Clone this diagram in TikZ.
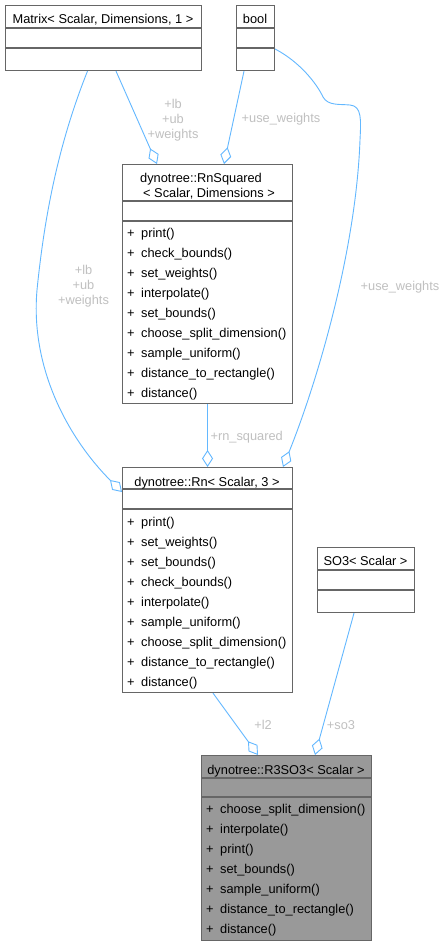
\documentclass[tikz,border=0pt]{standalone}
\usepackage{fontspec}
\setmainfont{Liberation Sans}
\usetikzlibrary{arrows.meta}
\definecolor{edgeblue}{HTML}{63B8FF}
\definecolor{boxgray}{HTML}{666666}
\definecolor{labelgray}{HTML}{C0C0C0}
\definecolor{hlfill}{HTML}{999999}
\newcommand\mrow[1]{\makebox[14pt][l]{+}#1}
\begin{document}
\begin{tikzpicture}[x=1pt,y=-1pt,
  box/.style={draw=boxgray, line width=1.1pt, inner sep=0pt, anchor=north west},
  divline/.style={draw=boxgray, line width=1.1pt},
  rows/.style={inner sep=0pt, anchor=base west, align=left, font=\fontsize{12.8}{20}\selectfont},
  ttl/.style={inner sep=0pt, anchor=base, font=\fontsize{12.8}{15}\selectfont},
  ttlw/.style={inner sep=0pt, anchor=base west, font=\fontsize{12.8}{15}\selectfont},
  lbl/.style={inner sep=0pt, anchor=base, align=center, text=labelgray, font=\fontsize{12.8}{14.8}\selectfont},
  edge/.style={draw=edgeblue, line width=0.9pt, -{Diamond[length=17pt,width=11pt,fill=white]}}
]
\useasboundingbox[fill=white] (0,0) rectangle (446,946);

% Matrix
\node[box, minimum width=196, minimum height=65] (matrix) at (5,5) {};
\draw[divline] ([yshift=-23]matrix.north west) -- ([yshift=-23]matrix.north east);
\draw[divline] ([yshift=-43]matrix.north west) -- ([yshift=-43]matrix.north east);
\node[ttl] (matrixT) at (103,23.5) {Matrix< Scalar, Dimensions, 1 >};

% bool
\node[box, minimum width=38, minimum height=65] (bool) at (236,5) {};
\draw[divline] ([yshift=-23]bool.north west) -- ([yshift=-23]bool.north east);
\draw[divline] ([yshift=-43]bool.north west) -- ([yshift=-43]bool.north east);
\node[ttl] (boolT) at (255,23.5) {bool};

% RnSquared
\node[box, minimum width=170, minimum height=239] (rnsq) at (122,164) {};
\draw[divline] ([yshift=-37]rnsq.north west) -- ([yshift=-37]rnsq.north east);
\draw[divline] ([yshift=-57]rnsq.north west) -- ([yshift=-57]rnsq.north east);
\node[ttlw] (rnsqT1) at (140,182) {dynotree::RnSquared};
\node[ttlw] (rnsqT2) at (143,197.5) {< Scalar, Dimensions >};
% anchor base = baseline of the last line
\node[rows] (rnsqR) at (127,397.5) {\mrow{print()}\\\mrow{check\_bounds()}\\\mrow{set\_weights()}\\\mrow{interpolate()}\\\mrow{set\_bounds()}\\\mrow{choose\_split\_dimension()}\\\mrow{sample\_uniform()}\\\mrow{distance\_to\_rectangle()}\\\mrow{distance()}};

% Rn
\node[box, minimum width=170, minimum height=225] (rn) at (122,467) {};
\draw[divline] ([yshift=-22]rn.north west) -- ([yshift=-22]rn.north east);
\draw[divline] ([yshift=-42]rn.north west) -- ([yshift=-42]rn.north east);
\node[ttl] (rnT) at (207,486) {dynotree::Rn< Scalar, 3 >};
\node[rows] (rnR) at (127,686) {\mrow{print()}\\\mrow{set\_weights()}\\\mrow{set\_bounds()}\\\mrow{check\_bounds()}\\\mrow{interpolate()}\\\mrow{sample\_uniform()}\\\mrow{choose\_split\_dimension()}\\\mrow{distance\_to\_rectangle()}\\\mrow{distance()}};

% SO3
\node[box, minimum width=97, minimum height=65] (so3) at (317,547) {};
\draw[divline] ([yshift=-23]so3.north west) -- ([yshift=-23]so3.north east);
\draw[divline] ([yshift=-43]so3.north west) -- ([yshift=-43]so3.north east);
\node[ttl] (so3T) at (365.5,565) {SO3< Scalar >};

% R3SO3
\node[box, fill=hlfill, minimum width=170, minimum height=185] (r3) at (201,755) {};
\draw[divline] ([yshift=-23]r3.north west) -- ([yshift=-23]r3.north east);
\draw[divline] ([yshift=-42]r3.north west) -- ([yshift=-42]r3.north east);
\node[ttl] (r3T) at (286,774) {dynotree::R3SO3< Scalar >};
\node[rows] (r3R) at (206,933.5) {\mrow{choose\_split\_dimension()}\\\mrow{interpolate()}\\\mrow{print()}\\\mrow{set\_bounds()}\\\mrow{sample\_uniform()}\\\mrow{distance\_to\_rectangle()}\\\mrow{distance()}};

% connectors
\draw[edge] ([xshift=111]matrix.south west) -- ([xshift=35]rnsq.north west);
\node[lbl] (l1) at (173,138) {+lb\\+ub\\+weights};

\draw[edge] ([xshift=8]bool.south west) -- ([xshift=102]rnsq.north west);
\node[lbl] (l2) at (281,122.5) {+use\_weights};

\draw[edge] ([yshift=-44]bool.north east) .. controls (300,62) and (317,84) .. (323,97)
  .. controls (328,106) and (340,104) .. (350,105)
  .. controls (362,106) and (361,120) .. (360,140)
  .. controls (356,250) and (318,380) .. ([xshift=161]rn.north west);
\node[lbl] (l3) at (400,290) {+use\_weights};

\draw[edge] ([xshift=82.5]matrix.south west) .. controls (60,140) and (45,210) .. (37,290)
  .. controls (30,370) and (70,440) .. ([yshift=-25]rn.north west);
\node[lbl] (l4) at (83.5,304.5) {+lb\\+ub\\+weights};

\draw[edge] (rnsq.south) -- (rn.north);
\node[lbl] (l5) at (246.7,440.5) {+rn\_squared};

\draw[edge] ([xshift=91]rn.south west) -- ([xshift=57]r3.north west);
\node[lbl] (l6) at (263,729) {+l2};

\draw[edge] ([xshift=37]so3.south west) -- ([xshift=114]r3.north west);
\node[lbl] (l7) at (341,729) {+so3};
\end{tikzpicture}
\end{document}
